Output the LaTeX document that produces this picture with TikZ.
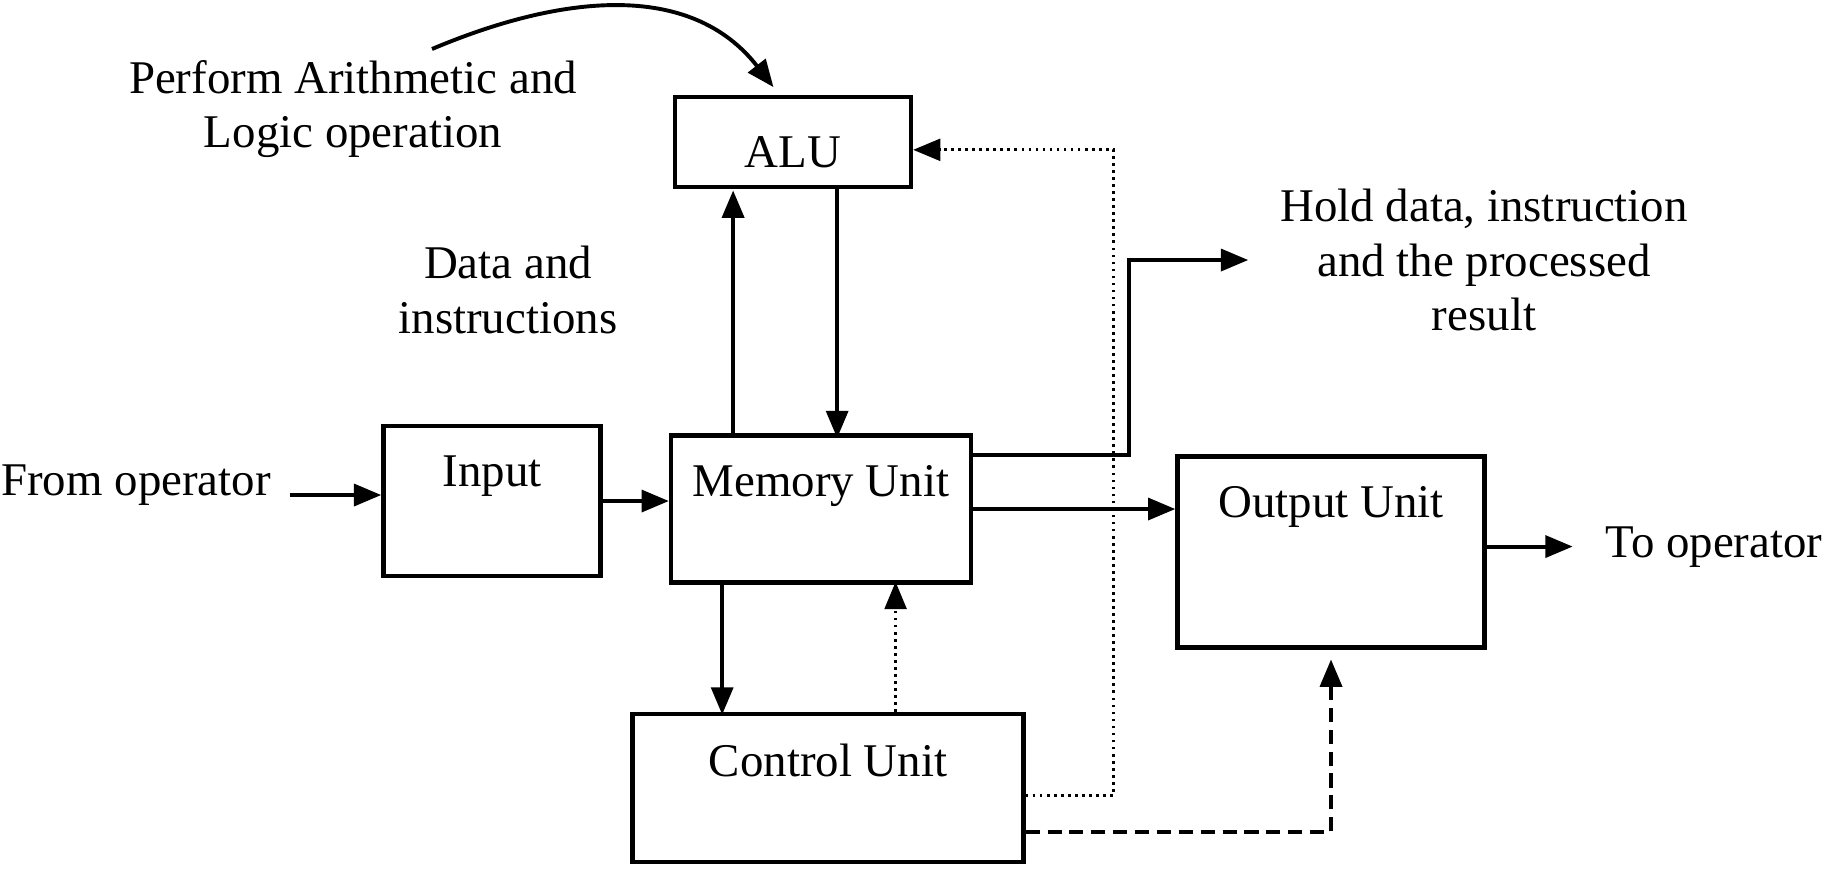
\documentclass[tikz,border=0pt]{standalone}
\usepackage{fontspec}
\setmainfont{Liberation Serif}
\usetikzlibrary{arrows.meta}
\tikzset{
	unitstyle/.style={rectangle,draw=black,line width=1.1pt},
	namestyle/.style={anchor=north,yshift=-4pt},
	notestyle/.style={align=center,inner sep=0pt},
	flowstyle/.style={-{Triangle[length=7pt,width=5.6pt]},line width=1pt},
	dotstyle/.style={flowstyle,line width=0.8pt,dash pattern=on 0.7pt off 1.1pt},
	dashstyle/.style={flowstyle,dash pattern=on 3.6pt off 2pt}
}
\begin{document}
\begin{tikzpicture}[x=0.256pt,y=-0.256pt]
	\fontsize{12pt}{14pt}\selectfont
	\useasboundingbox (0,0) rectangle (1832,876);
	\node[unitstyle,minimum width=60.4pt,minimum height=23pt,label={[namestyle,yshift=-2.5pt]north:ALU}] (alu) at (793,142) {};
	\node[unitstyle,minimum width=55.6pt,minimum height=38.4pt,label={[namestyle]north:Input}] (input) at (492,501) {};
	\node[unitstyle,minimum width=76.8pt,minimum height=37.6pt,label={[namestyle]north:Memory Unit}] (memory) at (821,509) {};
	\node[unitstyle,minimum width=78.6pt,minimum height=48.9pt,label={[namestyle]north:Output Unit}] (output) at (1331,552) {};
	\node[unitstyle,minimum width=100.1pt,minimum height=37.9pt,label={[namestyle]north:Control Unit}] (control) at (828,788) {};
	\node[notestyle] (perform) at (353,109) {Perform Arithmetic and\\Logic operation};
	\node[notestyle] (datains) at (508,290) {Data and\\instructions};
	\node[notestyle] (hold) at (1484,260) {Hold data, instruction\\and the processed\\result};
	\node (fromop) at (136,485) {From operator};
	\node (toop) at (1714,547) {To operator};
	% arrows
	\coordinate (perfstart) at (432,49);
	\draw[flowstyle] (perfstart) .. controls (560,-5) and (690,-20) .. ([xshift=-5pt,yshift=2pt]alu.north);
	\coordinate (opin) at (290,495);
	\draw[flowstyle] (opin) -- (opin -| input.west);
	\draw[flowstyle] (input.east) -- (input.east -| memory.west);
	\draw[flowstyle] ([xshift=-22.5pt]memory.north) -- ++(0,-243);
	\draw[flowstyle] ([xshift=11.3pt]alu.south) -- ++(0,249);
	\draw[flowstyle] ([xshift=-25.3pt]memory.south) -- ++(0,130);
	\draw[dotstyle] ([xshift=17.3pt]control.north) -- ++(0,-130);
	\draw[flowstyle] (memory.east) -- (memory.east -| output.west);
	\draw[flowstyle] ([yshift=-5.6pt]memory.north east) -- ++(156,0) |- ([xshift=-8pt]hold.west);
	\draw[dotstyle] ([yshift=-1.8pt]control.east) -- ++(88,0) |- ([yshift=-2pt]alu.east);
	\draw[dashstyle] ([yshift=-11.3pt]control.east) -| ([yshift=-2.5pt]output.south);
	\draw[flowstyle] ([yshift=1.4pt]output.east) -- ++(86,0);
\end{tikzpicture}
\end{document}
